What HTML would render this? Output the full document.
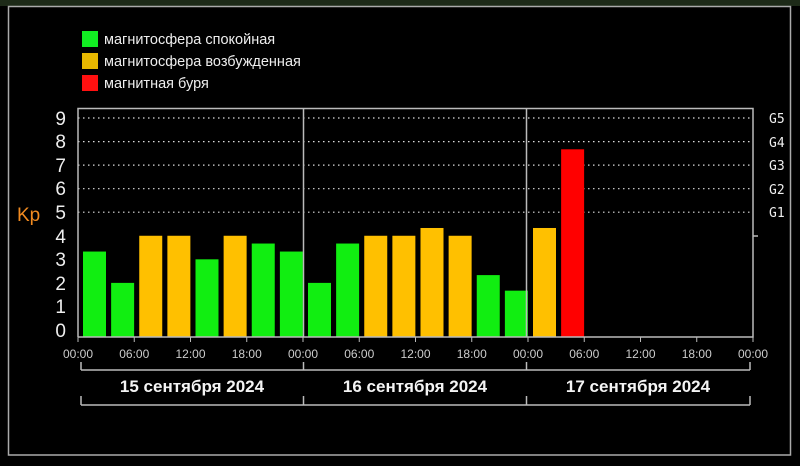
<!DOCTYPE html>
<html><head><meta charset="utf-8"><style>
body{margin:0;background:#000;width:800px;height:461px;overflow:hidden}
</style></head><body>
<svg width="800" height="461" xmlns="http://www.w3.org/2000/svg" font-family="Liberation Sans, DejaVu Sans, sans-serif">
<rect x="0" y="0" width="800" height="6" fill="#1d2a18"/>
<rect x="8.5" y="6.5" width="782" height="448.5" fill="none" stroke="#aaa" stroke-width="1.5"/>
<g font-size="14.5" fill="#eee">
<rect x="82" y="31" width="16" height="16" fill="#11ee22"/><text x="104" y="44">магнитосфера спокойная</text>
<rect x="82" y="53" width="16" height="16" fill="#e8b800"/><text x="104" y="66">магнитосфера возбужденная</text>
<rect x="82" y="75" width="16" height="16" fill="#ff1010"/><text x="104" y="88">магнитная буря</text>
</g>
<g stroke="#ddd" stroke-width="1.2" stroke-dasharray="1.5 3.5">
<line x1="78" x2="753" y1="118" y2="118"/><line x1="78" x2="753" y1="141.6" y2="141.6"/>
<line x1="78" x2="753" y1="165.1" y2="165.1"/><line x1="78" x2="753" y1="188.7" y2="188.7"/>
<line x1="78" x2="753" y1="212.2" y2="212.2"/>
</g>
<g id="bars"></g>
<g stroke="#bbb" stroke-width="1.5" fill="none">
<polyline points="78,337 78,108.5 753,108.5 753,337 78,337"/>
<line x1="303.5" y1="108" x2="303.5" y2="337"/><line x1="526.5" y1="108" x2="526.5" y2="337"/>
<line x1="81" y1="370" x2="750" y2="370"/><line x1="81" y1="405" x2="750" y2="405"/>
<line x1="81" y1="362" x2="81" y2="370"/><line x1="303.5" y1="362" x2="303.5" y2="370"/><line x1="526.5" y1="362" x2="526.5" y2="370"/><line x1="750" y1="362" x2="750" y2="370"/>
<line x1="81" y1="396" x2="81" y2="405"/><line x1="303.5" y1="396" x2="303.5" y2="405"/><line x1="526.5" y1="396" x2="526.5" y2="405"/><line x1="750" y1="396" x2="750" y2="405"/>
<line x1="753" y1="236" x2="758" y2="236"/>
</g>
<g font-size="19" fill="#eee" text-anchor="end">
<text x="66" y="125">9</text><text x="66" y="148">8</text><text x="66" y="172">7</text><text x="66" y="195">6</text><text x="66" y="219">5</text><text x="66" y="243">4</text><text x="66" y="266">3</text><text x="66" y="290">2</text><text x="66" y="313">1</text><text x="66" y="337">0</text>
</g>
<text x="17" y="221" font-size="19" fill="#f08a20">Kp</text>
<g font-size="13" fill="#eee" font-family="DejaVu Sans Mono, monospace">
<text x="769" y="123">G5</text><text x="769" y="147">G4</text><text x="769" y="170">G3</text><text x="769" y="194">G2</text><text x="769" y="217">G1</text>
</g>
<g font-size="12" fill="#ccc" text-anchor="middle" id="xl"></g>
<g font-size="17" font-weight="bold" fill="#f4f4f4" text-anchor="middle">
<text x="192" y="392">15 сентября 2024</text><text x="415" y="392">16 сентября 2024</text><text x="638" y="392">17 сентября 2024</text>
</g>
<script>
var v=[3.33,2,4,4,3,4,3.67,3.33,2,3.67,4,4,4.33,4,2.33,1.67,4.33,7.67];
var g=document.getElementById('bars'),ns='http://www.w3.org/2000/svg';
var sw=675/24;
v.forEach(function(k,i){var r=document.createElementNS(ns,'rect');var x=78+i*sw+5;var y=330-k*23.56;
r.setAttribute('x',x);r.setAttribute('y',y);r.setAttribute('width',23);r.setAttribute('height',337-y);
r.setAttribute('fill',k>=5?'#ff0000':(k>=4?'#ffc000':'#11ee11'));g.appendChild(r);});
var xl=document.getElementById('xl');var labs=['00:00','06:00','12:00','18:00'];
for(var i=0;i<=12;i++){var t=document.createElementNS(ns,'text');t.setAttribute('x',78+i*sw*2);t.setAttribute('y',358);t.textContent=labs[i%4];xl.appendChild(t);
var l=document.createElementNS(ns,'line');l.setAttribute('x1',78+i*sw*2);l.setAttribute('x2',78+i*sw*2);l.setAttribute('y1',337);l.setAttribute('y2',342);l.setAttribute('stroke','#bbb');xl.appendChild(l);}
</script>
</svg>
</body></html>
